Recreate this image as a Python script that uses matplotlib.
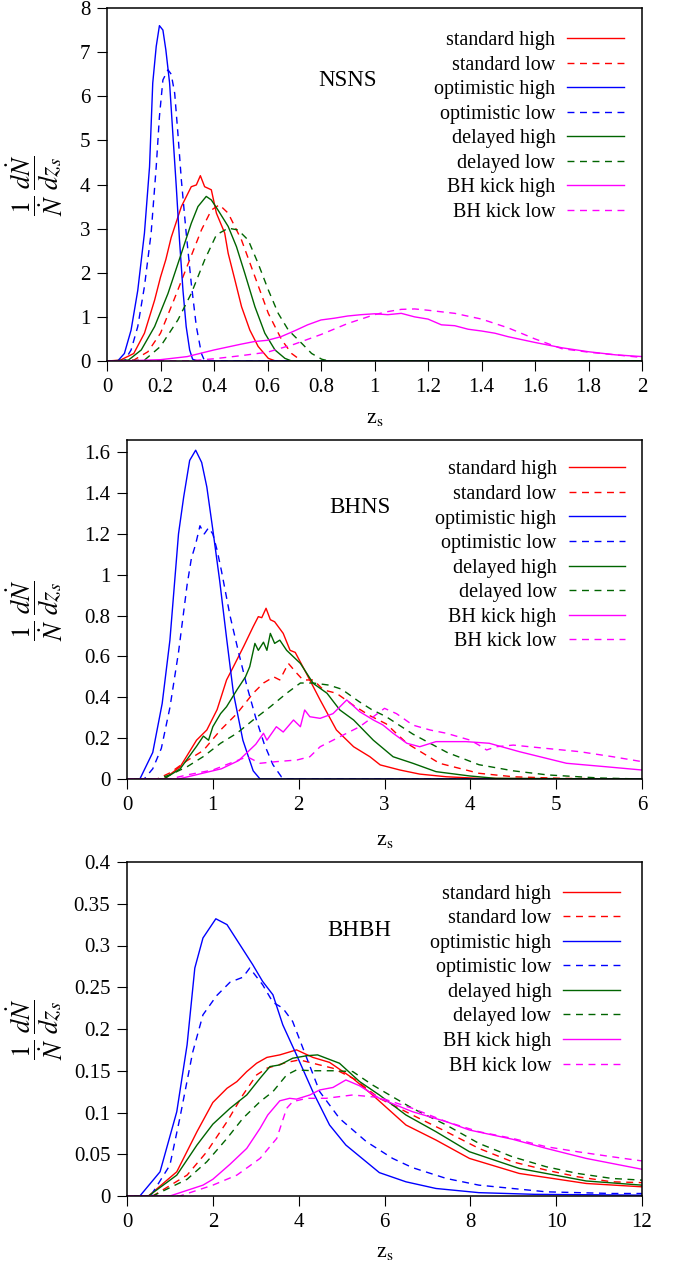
import numpy as np
import matplotlib
matplotlib.use('Agg')
import matplotlib.pyplot as plt
from matplotlib.ticker import FuncFormatter

plt.rcParams['font.family'] = 'serif'
plt.rcParams['font.serif'] = ['Liberation Serif', 'DejaVu Serif']
plt.rcParams['mathtext.fontset'] = 'stix'

labels = ['standard high', 'standard low', 'optimistic high', 'optimistic low',
          'delayed high', 'delayed low', 'BH kick high', 'BH kick low']
colors = ['#ff0000', '#ff0000', '#0000ff', '#0000ff',
          '#006400', '#006400', '#ff00ff', '#ff00ff']
styles = ['-', '--', '-', '--', '-', '--', '-', '--']

# ---------------- NSNS ----------------
nsns_std_hi_z = [0, 0.05, 0.1, 0.14, 0.178, 0.2, 0.22, 0.24, 0.278, 0.315, 0.334, 0.349, 0.365, 0.39, 0.409, 0.44, 0.453, 0.478, 0.503, 0.534, 0.565, 0.603, 0.63, 2.0]
nsns_std_hi_y = [0, 0.02, 0.17, 0.63, 1.38, 1.9, 2.3, 2.8, 3.5, 3.95, 3.99, 4.2, 3.95, 3.88, 3.35, 2.9, 2.44, 1.84, 1.23, 0.7, 0.33, 0.06, 0, 0]
nsns_std_lo_z = [0, 0.1, 0.153, 0.2, 0.25, 0.303, 0.353, 0.39, 0.42, 0.453, 0.503, 0.553, 0.603, 0.653, 0.69, 0.728, 2.0]
nsns_std_lo_y = [0, 0.02, 0.21, 0.63, 1.38, 2.2, 2.97, 3.42, 3.54, 3.35, 2.74, 1.91, 1.08, 0.48, 0.17, 0, 0]
nsns_opt_hi_z = [0, 0.04, 0.065, 0.09, 0.115, 0.14, 0.159, 0.171, 0.184, 0.196, 0.209, 0.22, 0.234, 0.246, 0.259, 0.271, 0.284, 0.296, 0.309, 0.32, 0.34, 2.0]
nsns_opt_hi_y = [0, 0, 0.17, 0.7, 1.6, 2.9, 4.4, 6.3, 7.13, 7.6, 7.5, 7.05, 6.3, 5.16, 3.95, 2.74, 1.6, 0.78, 0.25, 0.04, 0, 0]
nsns_opt_lo_z = [0, 0.065, 0.09, 0.115, 0.14, 0.165, 0.184, 0.196, 0.209, 0.228, 0.24, 0.253, 0.265, 0.278, 0.296, 0.315, 0.334, 0.353, 0.365, 2.0]
nsns_opt_lo_y = [0, 0, 0.25, 0.78, 1.69, 2.9, 4.4, 5.54, 6.37, 6.6, 6.5, 6.07, 5.16, 4.1, 2.9, 1.76, 0.78, 0.17, 0, 0]
nsns_del_hi_z = [0, 0.08, 0.128, 0.178, 0.228, 0.278, 0.315, 0.34, 0.371, 0.39, 0.415, 0.453, 0.484, 0.515, 0.553, 0.59, 0.628, 0.665, 0.69, 2.0]
nsns_del_hi_y = [0, 0.02, 0.25, 0.78, 1.53, 2.44, 3.12, 3.5, 3.73, 3.65, 3.42, 3.05, 2.59, 1.99, 1.23, 0.63, 0.25, 0.06, 0, 0]
nsns_del_lo_z = [0, 0.14, 0.2, 0.265, 0.315, 0.365, 0.409, 0.453, 0.49, 0.528, 0.565, 0.603, 0.64, 0.678, 0.728, 0.765, 0.803, 0.83, 2.0]
nsns_del_lo_y = [0, 0.02, 0.33, 0.93, 1.53, 2.29, 2.86, 3.01, 2.97, 2.74, 2.21, 1.61, 1.08, 0.7, 0.4, 0.17, 0.04, 0, 0]
nsns_kick_hi_z = [0, 0.1, 0.2, 0.3, 0.4, 0.5, 0.55, 0.6, 0.65, 0.7, 0.75, 0.8, 0.85, 0.9, 0.95, 1.0, 1.05, 1.1, 1.15, 1.2, 1.25, 1.3, 1.35, 1.4, 1.45, 1.5, 1.6, 1.7, 1.8, 1.9, 2.0]
nsns_kick_hi_y = [0, 0.01, 0.03, 0.1, 0.25, 0.38, 0.44, 0.47, 0.55, 0.68, 0.82, 0.93, 0.97, 1.02, 1.05, 1.07, 1.05, 1.08, 1.0, 0.95, 0.82, 0.8, 0.72, 0.68, 0.63, 0.55, 0.42, 0.3, 0.21, 0.14, 0.1]
nsns_kick_lo_z = [0, 0.3, 0.4, 0.5, 0.6, 0.7, 0.8, 0.9, 1.0, 1.05, 1.1, 1.15, 1.2, 1.3, 1.4, 1.5, 1.6, 1.7, 1.8, 1.9, 2.0]
nsns_kick_lo_y = [0, 0, 0.05, 0.12, 0.2, 0.38, 0.6, 0.85, 1.05, 1.12, 1.17, 1.18, 1.15, 1.08, 0.95, 0.75, 0.5, 0.28, 0.2, 0.14, 0.08]

# ---------------- BHNS ----------------
bhns_std_hi_z = [0, 0.43, 0.62, 0.81, 0.93, 1.05, 1.16, 1.24, 1.36, 1.47, 1.53, 1.57, 1.62, 1.67, 1.72, 1.82, 1.9, 1.96, 2.09, 2.25, 2.44, 2.64, 2.83, 2.95, 3.18, 3.41, 3.72, 4.1, 6.0]
bhns_std_hi_y = [0, 0, 0.06, 0.19, 0.24, 0.34, 0.485, 0.55, 0.65, 0.746, 0.795, 0.79, 0.836, 0.78, 0.77, 0.713, 0.63, 0.62, 0.517, 0.387, 0.24, 0.158, 0.109, 0.069, 0.044, 0.024, 0.011, 0.003, 0]
bhns_std_lo_z = [0, 0.35, 0.5, 0.7, 0.89, 1.09, 1.28, 1.47, 1.59, 1.71, 1.78, 1.88, 1.98, 2.05, 2.17, 2.29, 2.44, 2.64, 2.83, 3.02, 3.26, 3.64, 4.1, 4.5, 5.08, 6.0]
bhns_std_lo_y = [0, 0, 0.03, 0.09, 0.14, 0.24, 0.32, 0.42, 0.47, 0.5, 0.485, 0.566, 0.517, 0.485, 0.485, 0.436, 0.42, 0.36, 0.31, 0.27, 0.175, 0.077, 0.028, 0.011, 0.003, 0]
bhns_opt_hi_z = [0, 0.15, 0.3, 0.41, 0.5, 0.6, 0.66, 0.73, 0.8, 0.87, 0.93, 1.0, 1.08, 1.16, 1.24, 1.35, 1.47, 1.55, 6.0]
bhns_opt_hi_y = [0, 0, 0.13, 0.37, 0.68, 1.2, 1.38, 1.56, 1.61, 1.55, 1.43, 1.22, 0.97, 0.69, 0.42, 0.19, 0.04, 0, 0]
bhns_opt_lo_z = [0, 0.2, 0.3, 0.4, 0.5, 0.6, 0.7, 0.75, 0.8, 0.85, 0.9, 0.95, 1.0, 1.05, 1.1, 1.2, 1.3, 1.4, 1.5, 1.6, 1.7, 1.8, 1.85, 6.0]
bhns_opt_lo_y = [0, 0, 0.05, 0.15, 0.35, 0.62, 0.95, 1.08, 1.15, 1.24, 1.2, 1.23, 1.2, 1.12, 1.02, 0.8, 0.62, 0.45, 0.3, 0.17, 0.07, 0.01, 0, 0]
bhns_del_hi_z = [0, 0.43, 0.62, 0.81, 0.89, 0.95, 1.0, 1.09, 1.16, 1.28, 1.38, 1.43, 1.49, 1.53, 1.59, 1.63, 1.67, 1.72, 1.78, 1.86, 2.02, 2.17, 2.33, 2.48, 2.64, 2.87, 3.1, 3.33, 3.6, 3.99, 4.3, 6.0]
bhns_del_hi_y = [0, 0, 0.05, 0.16, 0.21, 0.19, 0.256, 0.32, 0.354, 0.436, 0.5, 0.55, 0.664, 0.63, 0.67, 0.63, 0.713, 0.664, 0.68, 0.63, 0.566, 0.468, 0.42, 0.338, 0.289, 0.19, 0.109, 0.077, 0.036, 0.015, 0.003, 0]
bhns_del_lo_z = [0, 0.35, 0.5, 0.7, 0.89, 1.09, 1.28, 1.47, 1.67, 1.86, 2.02, 2.17, 2.35, 2.5, 2.7, 2.85, 3.02, 3.33, 3.73, 4.1, 4.5, 4.9, 5.5, 6.0]
bhns_del_lo_y = [0, 0, 0.02, 0.06, 0.11, 0.175, 0.224, 0.289, 0.354, 0.42, 0.47, 0.47, 0.46, 0.44, 0.38, 0.34, 0.305, 0.22, 0.13, 0.07, 0.04, 0.02, 0.005, 0]
bhns_kick_hi_z = [0, 0.6, 0.8, 1.0, 1.1, 1.2, 1.3, 1.35, 1.43, 1.5, 1.59, 1.63, 1.74, 1.82, 1.94, 2.02, 2.07, 2.13, 2.25, 2.4, 2.56, 2.71, 2.87, 2.98, 3.1, 3.26, 3.41, 3.6, 3.95, 4.22, 4.57, 5.12, 5.58, 6.0]
bhns_kick_hi_y = [0, 0, 0.02, 0.04, 0.05, 0.07, 0.09, 0.11, 0.142, 0.17, 0.224, 0.19, 0.256, 0.23, 0.289, 0.256, 0.338, 0.305, 0.297, 0.32, 0.387, 0.33, 0.289, 0.265, 0.224, 0.175, 0.158, 0.183, 0.183, 0.175, 0.134, 0.077, 0.06, 0.044]
bhns_kick_lo_z = [0, 0.5, 0.7, 1.0, 1.2, 1.4, 1.55, 1.74, 1.98, 2.13, 2.25, 2.4, 2.56, 2.71, 2.87, 3.0, 3.14, 3.33, 3.53, 3.72, 4.0, 4.1, 4.19, 4.3, 4.5, 4.88, 5.27, 5.66, 6.0]
bhns_kick_lo_y = [0, 0, 0.02, 0.044, 0.077, 0.109, 0.077, 0.085, 0.093, 0.109, 0.158, 0.19, 0.224, 0.256, 0.305, 0.346, 0.32, 0.264, 0.24, 0.224, 0.19, 0.166, 0.142, 0.158, 0.166, 0.15, 0.134, 0.109, 0.085]

# ---------------- BHBH ----------------
bhbh_std_hi_z = [0, 0.5, 1.16, 1.63, 2.0, 2.33, 2.56, 2.79, 3.02, 3.26, 3.56, 3.95, 4.33, 4.72, 5.26, 5.72, 6.5, 7.2, 7.98, 9.14, 10.7, 12.0]
bhbh_std_hi_y = [0, 0, 0.029, 0.077, 0.112, 0.129, 0.137, 0.149, 0.159, 0.166, 0.169, 0.175, 0.166, 0.16, 0.141, 0.121, 0.085, 0.067, 0.045, 0.027, 0.015, 0.011]
bhbh_std_lo_z = [0, 0.6, 1.4, 1.86, 2.33, 2.7, 3.02, 3.26, 3.72, 4.02, 4.33, 4.8, 5.3, 5.88, 6.65, 7.44, 8.2, 8.98, 9.77, 10.5, 11.3, 12.0]
bhbh_std_lo_y = [0, 0, 0.025, 0.053, 0.089, 0.121, 0.145, 0.153, 0.16, 0.163, 0.159, 0.153, 0.14, 0.117, 0.097, 0.077, 0.057, 0.041, 0.031, 0.023, 0.017, 0.016]
bhbh_opt_hi_z = [0, 0.3, 0.77, 1.16, 1.4, 1.58, 1.77, 2.07, 2.33, 2.63, 2.93, 3.16, 3.4, 3.63, 3.95, 4.33, 4.72, 5.1, 5.88, 6.5, 7.2, 8.2, 9.5, 12.0]
bhbh_opt_hi_y = [0, 0, 0.029, 0.101, 0.181, 0.273, 0.309, 0.332, 0.325, 0.301, 0.277, 0.257, 0.241, 0.205, 0.169, 0.125, 0.085, 0.061, 0.028, 0.017, 0.009, 0.004, 0.002, 0.001]
bhbh_opt_lo_z = [0, 0.55, 1.0, 1.23, 1.53, 1.77, 2.09, 2.4, 2.7, 2.86, 3.16, 3.4, 3.63, 3.86, 4.19, 4.49, 4.95, 5.58, 6.19, 6.65, 7.44, 8.2, 9.77, 11.3, 12.0]
bhbh_opt_lo_y = [0, 0, 0.037, 0.093, 0.172, 0.217, 0.24, 0.256, 0.262, 0.273, 0.253, 0.232, 0.225, 0.209, 0.165, 0.125, 0.093, 0.065, 0.045, 0.034, 0.021, 0.013, 0.005, 0.003, 0.003]
bhbh_del_hi_z = [0, 0.5, 1.16, 1.63, 2.0, 2.4, 2.79, 3.1, 3.33, 3.56, 3.86, 4.19, 4.44, 4.95, 5.42, 5.88, 6.5, 7.2, 7.98, 9.14, 10.7, 12.0]
bhbh_del_hi_y = [0, 0, 0.025, 0.061, 0.086, 0.105, 0.121, 0.141, 0.155, 0.157, 0.165, 0.168, 0.169, 0.159, 0.137, 0.121, 0.097, 0.077, 0.053, 0.033, 0.018, 0.013]
bhbh_del_lo_z = [0, 0.6, 1.4, 1.86, 2.33, 2.7, 3.1, 3.4, 3.72, 3.95, 4.33, 4.8, 5.26, 5.72, 6.05, 6.65, 7.44, 8.2, 8.98, 9.77, 10.5, 11.3, 12.0]
bhbh_del_lo_y = [0, 0, 0.02, 0.041, 0.069, 0.093, 0.113, 0.125, 0.145, 0.151, 0.15, 0.15, 0.149, 0.133, 0.123, 0.105, 0.085, 0.063, 0.047, 0.035, 0.027, 0.021, 0.019]
bhbh_kick_hi_z = [0, 1.0, 1.77, 2.0, 2.4, 2.79, 3.1, 3.28, 3.56, 3.79, 3.95, 4.26, 4.49, 4.8, 5.1, 5.42, 5.88, 6.65, 7.44, 7.98, 8.98, 9.77, 10.7, 12.0]
bhbh_kick_hi_y = [0, 0, 0.013, 0.02, 0.038, 0.057, 0.081, 0.097, 0.114, 0.117, 0.116, 0.121, 0.127, 0.13, 0.139, 0.132, 0.117, 0.101, 0.089, 0.079, 0.068, 0.057, 0.045, 0.032]
bhbh_kick_lo_z = [0, 1.23, 2.0, 2.56, 3.1, 3.49, 3.72, 3.86, 4.19, 4.64, 5.26, 5.88, 6.65, 7.44, 8.2, 8.98, 9.77, 10.5, 11.3, 12.0]
bhbh_kick_lo_y = [0, 0, 0.013, 0.025, 0.045, 0.069, 0.105, 0.113, 0.117, 0.117, 0.121, 0.118, 0.105, 0.089, 0.077, 0.069, 0.059, 0.053, 0.047, 0.042]

panels = [
    ('NSNS', [(nsns_std_hi_z, nsns_std_hi_y), (nsns_std_lo_z, nsns_std_lo_y),
              (nsns_opt_hi_z, nsns_opt_hi_y), (nsns_opt_lo_z, nsns_opt_lo_y),
              (nsns_del_hi_z, nsns_del_hi_y), (nsns_del_lo_z, nsns_del_lo_y),
              (nsns_kick_hi_z, nsns_kick_hi_y), (nsns_kick_lo_z, nsns_kick_lo_y)]),
    ('BHNS', [(bhns_std_hi_z, bhns_std_hi_y), (bhns_std_lo_z, bhns_std_lo_y),
              (bhns_opt_hi_z, bhns_opt_hi_y), (bhns_opt_lo_z, bhns_opt_lo_y),
              (bhns_del_hi_z, bhns_del_hi_y), (bhns_del_lo_z, bhns_del_lo_y),
              (bhns_kick_hi_z, bhns_kick_hi_y), (bhns_kick_lo_z, bhns_kick_lo_y)]),
    ('BHBH', [(bhbh_std_hi_z, bhbh_std_hi_y), (bhbh_std_lo_z, bhbh_std_lo_y),
              (bhbh_opt_hi_z, bhbh_opt_hi_y), (bhbh_opt_lo_z, bhbh_opt_lo_y),
              (bhbh_del_hi_z, bhbh_del_hi_y), (bhbh_del_lo_z, bhbh_del_lo_y),
              (bhbh_kick_hi_z, bhbh_kick_hi_y), (bhbh_kick_lo_z, bhbh_kick_lo_y)]),
]

W, H = 673, 1264
# axes boxes in pixels: left, top, right, bottom
boxes = [(107, 8, 642, 361), (127, 440, 642, 779), (127, 862, 642, 1196)]
xlims = [(0, 2), (0, 6), (0, 12)]
ylims = [(0, 8), (0, 1.66), (0, 0.4)]
xticks = [np.arange(0, 2.01, 0.2), np.arange(0, 6.01, 1), np.arange(0, 12.01, 2)]
yticks = [np.arange(0, 8.01, 1), np.arange(0, 1.61, 0.2), np.arange(0, 0.401, 0.05)]
ylab_x = [-0.136, -0.18, -0.18]
xlab_y = [-0.163, -0.18, -0.168]
leg_anchor = [(0.966, 0.935), (0.967, 0.94), (0.957, 0.932)]
name_pos = [(0.45, 0.796), (0.452, 0.80), (0.452, 0.796)]

fig = plt.figure(figsize=(W / 100, H / 100), dpi=100)
fmt = FuncFormatter(lambda v, p: '%g' % round(v, 4))

for i, (name, series) in enumerate(panels):
    l, t, r, b = boxes[i]
    ax = fig.add_axes([l / W, 1 - b / H, (r - l) / W, (b - t) / H])
    handles = []
    for (zz, yy), lab, c, ls in zip(series, labels, colors, styles):
        if ls == '--':
            h, = ax.plot(zz, yy, color=c, lw=1.0, ls=(0, (5, 4)), label=lab)
        else:
            h, = ax.plot(zz, yy, color=c, lw=1.0, label=lab)
        handles.append(h)
    ax.set_xlim(*xlims[i])
    ax.set_ylim(*ylims[i])
    ax.set_xticks(xticks[i])
    ax.set_yticks(yticks[i])
    ax.xaxis.set_major_formatter(fmt)
    ax.yaxis.set_major_formatter(fmt)
    ax.tick_params(direction='out', length=7, width=0.8, labelsize=15, pad=5,
                   top=False, right=False)
    for s in ax.spines.values():
        s.set_linewidth(1.1)
    ax.set_ylabel(r'$\dfrac{1}{\dot{N}}\;\dfrac{d\dot{N}}{dz_s}$', fontsize=19, rotation=90)
    ax.yaxis.set_label_coords(ylab_x[i], 0.5)
    ax.yaxis.label.set_va('center')
    ax.yaxis.label.set_ha('center')
    ax.set_xlabel(r'z$_{\mathrm{s}}$', fontsize=16)
    ax.xaxis.set_label_coords(0.5, xlab_y[i])
    ax.xaxis.label.set_va('center')
    ax.text(name_pos[i][0], name_pos[i][1], name, transform=ax.transAxes,
            fontsize=16.5, ha='center', va='center')
    ax.legend(handles=handles, loc='upper right', bbox_to_anchor=leg_anchor[i],
              frameon=False, markerfirst=False, fontsize=14.5, handlelength=2.8,
              handletextpad=0.6, labelspacing=0.27, borderpad=0, borderaxespad=0)

fig.savefig('out.png', dpi=100)
